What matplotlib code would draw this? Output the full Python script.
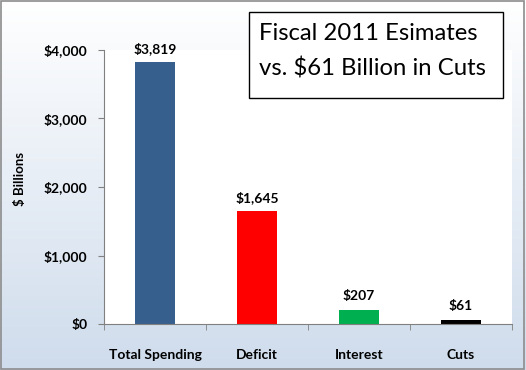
import numpy as np
import matplotlib.pyplot as plt
from matplotlib.colors import LinearSegmentedColormap

categories = ['Total Spending', 'Deficit', 'Interest', 'Cuts']
values = [3819, 1645, 207, 61]
labels = ['$3,819', '$1,645', '$207', '$61']
colors = ['#375F8E', '#FF0000', '#00B050', '#000000']
yticks = [0, 1000, 2000, 3000, 4000]
ytick_labels = ['$0', '$1,000', '$2,000', '$3,000', '$4,000']

plt.rcParams['font.family'] = ['Lato', 'DejaVu Sans']

fig = plt.figure(figsize=(5.26, 3.70), dpi=100)

# background gradient
bg = fig.add_axes([0, 0, 1, 1], zorder=0)
cmap = LinearSegmentedColormap.from_list('bg', ['#CFDCEC', '#FFFFFF'])
grad = np.linspace(0, 1, 256).reshape(-1, 1)
bg.imshow(grad, aspect='auto', cmap=cmap, origin='lower', extent=[0, 1, 0, 1])
bg.set_xlim(0, 1)
bg.set_ylim(0, 1)
bg.axis('off')
bg.add_patch(plt.Rectangle((0.002, 0.003), 0.995, 0.993, fill=False,
                           edgecolor='#8C8C8C', lw=1.2))

ax = fig.add_axes([104 / 526, 1 - 324 / 370, 408 / 526, 274 / 370], zorder=1)
x = np.arange(len(categories))
ax.bar(x, values, width=0.4, color=colors)
for xi, v, lab in zip(x, values, labels):
    ax.text(xi, v + 110, lab, ha='center', va='bottom', fontsize=10,
            fontweight='bold')

ax.set_xlim(-0.5, 3.5)
ax.set_ylim(0, 4000)
ax.set_yticks(yticks)
ax.set_yticklabels(ytick_labels, fontsize=10, fontweight='bold')
ax.set_xticks(x)
ax.set_xticklabels(categories, fontsize=10, fontweight='bold')
ax.set_xticks([-0.5, 0.5, 1.5, 2.5, 3.5], minor=True)
ax.tick_params(axis='x', which='major', length=0, pad=18)
ax.tick_params(axis='x', which='minor', length=4, color='#808080',
               direction='out')
ax.tick_params(axis='y', length=4, color='#808080', pad=8)
for s in ['top', 'right']:
    ax.spines[s].set_visible(False)
for s in ['left', 'bottom']:
    ax.spines[s].set_color('#808080')

fig.text(20 / 526, 1 - 179 / 370, '$ Billions', fontsize=9.5,
         fontweight='bold', rotation=90, ha='center', va='center')

# title box on top
top = fig.add_axes([0, 0, 1, 1], zorder=3)
top.set_xlim(0, 1)
top.set_ylim(0, 1)
top.axis('off')
top.add_patch(plt.Rectangle((249 / 526, 1 - 98 / 370), 254 / 526, 86 / 370,
                            facecolor='white', edgecolor='black', lw=1.0))
top.text(259 / 526, 1 - 40 / 370, 'Fiscal 2011 Esimates', fontsize=17.2,
         ha='left', va='baseline')
top.text(259 / 526, 1 - 75 / 370, 'vs. $61 Billion in Cuts', fontsize=17.2,
         ha='left', va='baseline')

fig.savefig('out.png', dpi=100)
